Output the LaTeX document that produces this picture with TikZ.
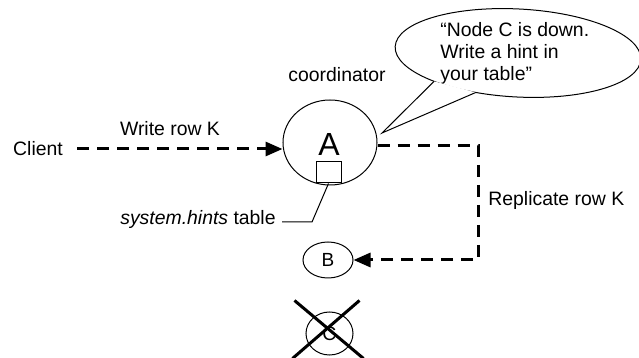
\documentclass[tikz,border=0pt]{standalone}
\usepackage{fontspec}
\setmainfont{Liberation Sans}
\usetikzlibrary{arrows.meta,shapes.geometric,calc}
\begin{document}
\begin{tikzpicture}[x=0.5pt,y=-0.5pt,
  every node/.style={font=\fontsize{9.7}{11}\selectfont, inner sep=0pt},
  thinline/.style={line width=0.5pt},
  dashline/.style={line width=1.5pt, dash pattern=on 6pt off 4pt},
  dasharrow/.style={dashline, -{Triangle[length=8.5pt,width=7pt]}},
  nodeell/.style={draw, ellipse, thinline, inner sep=0pt}]
\useasboundingbox (0,0) rectangle (639,358);

% nodes
\node (client) at (38,149) {Client};
\node (write) at (170,129) {Write row K};
\node (coordlbl) at (337,75) {coordinator};
\node[nodeell, minimum width=47pt, minimum height=42.5pt] (A) at (330,142.5) {};
\node[font=\fontsize{16}{18}\selectfont] (Aletter) at (329,144) {A};
\node[draw, thinline, minimum width=12.5pt, minimum height=10.5pt] (tbl) at (328.5,172.5) {};
\node[anchor=east, inner xsep=3pt] (hints) at (282,219) {\textit{system.hints} table};
\node[nodeell, minimum width=25pt, minimum height=18pt, font=\fontsize{9.5}{11}\selectfont] (B) at (328,260) {B};
\node[nodeell, minimum width=23.5pt, minimum height=21.5pt] (C) at (329.5,333.5) {C};
\node[anchor=west] (rep) at (488,200) {Replicate row K};
\node[anchor=west, align=left] (quote) at (440,53) {“Node C is down.\\Write a hint in\\your table”};

% coordinates
\coordinate (cstart) at (77,149);
\coordinate (aout) at ($(A.east)+(0,3)$);
\coordinate (corner1) at (478,145.5);
\coordinate (corner2) at (478,260);
\coordinate (bend) at (312,222);
\coordinate (tip) at (382,133);

% connectors
\draw[dasharrow] (cstart) -- (A.west |- cstart);
\draw[dasharrow] (aout) -- (corner1) -- (corner2) -- (B.east);
\draw[thinline] (tbl.south) -- (bend) -- (bend -| hints.east);

% crossed out C
\draw[line width=1.5pt] ($(C)+(-35,-33)$) -- ($(C)+(34,25)$);
\draw[line width=1.5pt] ($(C)+(30,-33)$) -- ($(C)+(-37,25)$);

% callout
\begin{scope}[shift={(518,53)}, rotate=-3]
  \draw[thinline] (0,0) ellipse [x radius=123, y radius=44];
  \coordinate (t1) at ({123*cos(132)},{44*sin(132)});
  \coordinate (t2) at ({123*cos(109)},{44*sin(109)});
\end{scope}
\fill[white] (t1) -- (tip) -- (t2) -- cycle;
\draw[thinline, line join=miter] (t1) -- (tip) -- (t2);
\end{tikzpicture}
\end{document}
